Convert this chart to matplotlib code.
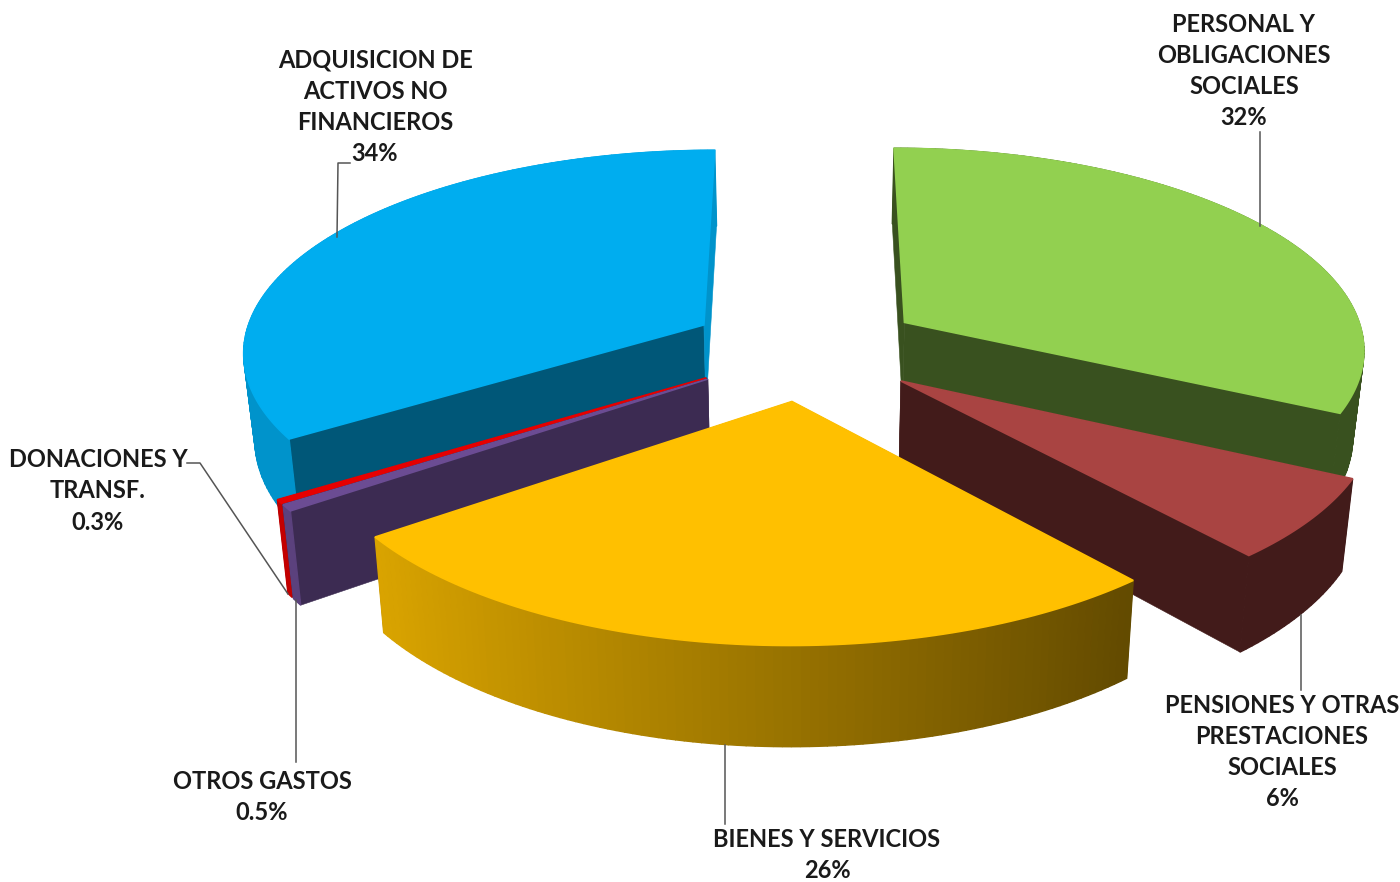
# plot.py
# exploded 3D pie, drawn with polygons because matplotlib has no perspective pie

import matplotlib

matplotlib.use("Agg")
import matplotlib.colors as mcolors
import matplotlib.pyplot as plt
import numpy as np
from matplotlib.patches import Polygon

categories = [
    "PERSONAL Y\nOBLIGACIONES\nSOCIALES",
    "PENSIONES Y OTRAS\nPRESTACIONES\nSOCIALES",
    "BIENES Y SERVICIOS",
    "OTROS GASTOS",
    "DONACIONES Y\nTRANSF.",
    "ADQUISICION DE\nACTIVOS NO\nFINANCIEROS",
]
values = [32.3, 6.4, 26.3, 0.5, 0.3, 34.2]
colors = ["#92d050", "#a94442", "#ffc000", "#6b4c93", "#e60000", "#00adef"]
# shade of the wall at the start and at the end of each slice
wall_start = [0.39, 0.39, 0.39, 0.56, 0.42, 0.50]
wall_end = [0.39, 0.39, 0.39, 0.56, 0.42, 0.85]
draw_order = [5, 0, 4, 3, 1, 2]

# label centre in pixels
label_x = [1244, 1282, 827, 262, 98, 375]
label_y = [71, 752, 855, 797, 491, 107]
# leader lines
leader_x = [[1260, 1260], [1301, 1301], [725, 725], [296, 296], [187, 200, 288], [350, 338, 337]]
leader_y = [[132, 226], [615, 690], [745, 824], [600, 762], [463, 463, 594], [163, 163, 237]]

# projection settings
CX, CY = 806, 349
A, B = 462, 201
K = 0.12
EXPLODE = 0.255
DEPTH = 86
BOTTOM_SHRINK = 0.98


def project(x, y, down=False):
    w = 1 + K * y
    u = CX + A * x / w
    v = CY - B * y / w
    if down:
        u = CX + (u - CX) * BOTTOM_SHRINK
        v = v + DEPTH / w
    return np.column_stack([u, v])


def shade(color, f):
    return tuple(np.array(mcolors.to_rgb(color)) * f)


def rim_factor(angle):
    # back of the pie keeps the shade of its own side
    if np.cos(angle) > 0:
        return 0.85 if np.sin(angle) < 0 else 0.39
    return np.interp(np.sin(angle), [-1, -0.8, 0.64, 1], [0.85, 0.85, 0.39, 0.39])


def add_poly(ax, pts, color, lw=1.0):
    ax.add_patch(Polygon(pts, closed=True, facecolor=color, edgecolor=color, linewidth=lw))


def draw_slice(ax, start, end, color, f_start, f_end):
    mid = (start + end) / 2
    ox, oy = EXPLODE * np.sin(mid), EXPLODE * np.cos(mid)
    t = np.linspace(start, end, max(int((end - start) * 60), 2))
    ax_x, ax_y = ox + np.sin(t), oy + np.cos(t)

    # radial walls
    for ang, f in ((start, f_start), (end, f_end)):
        ex, ey = np.array([ox, ox + np.sin(ang)]), np.array([oy, oy + np.cos(ang)])
        top = project(ex, ey)
        low = project(ex, ey, down=True)
        add_poly(ax, np.vstack([top, low[::-1]]), shade(color, f), lw=0.4)

    # outer side, one quad per step so the shade can change
    top = project(ax_x, ax_y)
    low = project(ax_x, ax_y, down=True)
    for i in range(len(t) - 1):
        add_poly(
            ax,
            [top[i], top[i + 1], low[i + 1], low[i]],
            shade(color, rim_factor((t[i] + t[i + 1]) / 2)),
        )

    # top face
    add_poly(ax, np.vstack([project(np.array([ox]), np.array([oy])), top]), color, lw=1.2)


fig = plt.figure(figsize=(14, 8.82), dpi=100)
ax = fig.add_axes([0, 0, 1, 1])
ax.set_xlim(0, 1400)
ax.set_ylim(882, 0)
ax.axis("off")

edges = np.cumsum([0] + values) / sum(values) * 2 * np.pi
for i in draw_order:
    draw_slice(ax, edges[i], edges[i + 1], colors[i], wall_start[i], wall_end[i])

for lx, ly in zip(leader_x, leader_y):
    ax.plot(lx, ly, color="#555555", lw=1.1, zorder=5)

for name, val, x, y in zip(categories, values, label_x, label_y):
    pct = f"{val:.0f}%" if val >= 1 else f"{val}%"
    ax.text(
        x, y, name + "\n" + pct, ha="center", va="center", ma="center",
        family="Lato", weight="bold", fontsize=17, color="#1a1a1a",
        linespacing=1.43, zorder=6,
    )

fig.savefig("out.png", dpi=100)
